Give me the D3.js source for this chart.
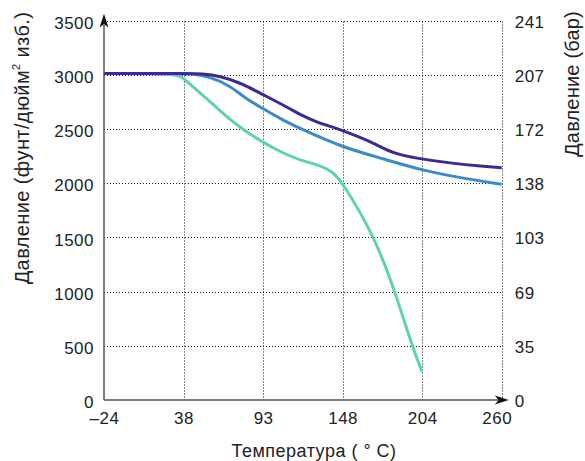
<!DOCTYPE html>
<html><head><meta charset="utf-8">
<script src="https://cdn.jsdelivr.net/npm/d3@7"></script>
<style>
body{margin:0;background:#fff;}
text{font-family:"Liberation Sans",Arial,sans-serif;fill:#222;}
</style></head>
<body><svg id="c" width="585" height="461"></svg>
<script>
const xTickLabels = ["–24","38","93","148","204","260"];
const yTicks = [0,500,1000,1500,2000,2500,3000,3500];
const yRightLabels = ["0","35","69","103","138","172","207","241"];
// x expressed in tick-index units (ticks are evenly spaced on the axis)
const seriesNavyX = [0,1,1.245,1.458,1.71,2,2.338,2.464,2.678,2.879,2.992,3.193,3.407,3.634,3.935,4.35,4.765,5];
const seriesNavyY = [3012,3012,3012,2989,2929,2818,2689,2634,2563,2517,2487,2432,2364,2275,2229,2186,2155,2143];
const seriesBlueX = [0,1,1.08,1.333,1.584,1.798,2,2.213,2.464,2.992,3.508,4,4.476,5];
const seriesBlueY = [3012,3012,3012,2984,2901,2772,2689,2597,2505,2333,2226,2119,2051,1990];
const seriesTealX = [0,0.893,0.993,1.144,1.333,1.459,1.584,1.748,2,2.213,2.464,2.678,2.879,3.005,3.407,3.659,3.872,3.998];
const seriesTealY = [3012,3012,2975,2874,2754,2671,2588,2496,2376,2293,2211,2174,2109,2000,1500,1000,500,261];
const colors = {navy:"#3a2b94", blue:"#3a8bc8", teal:"#5dd3b2"};

const svg = d3.select("#c");
const L=104, R=501.7, T=20.7, B=400;
const x = d3.scaleLinear().domain([0,5]).range([L,R]);
const y = d3.scaleLinear().domain([0,3500]).range([B,T]);
const px = v => Math.round(v)+0.5;

// grid
const g = svg.append("g");
g.selectAll(".hg").data(yTicks.filter(d=>d>0)).enter().append("line")
 .attr("x1",L).attr("x2",px(R)).attr("y1",d=>px(y(d))).attr("y2",d=>px(y(d)))
 .attr("stroke","#111").attr("stroke-width",1).attr("stroke-dasharray","1,2");
g.selectAll(".vg").data(d3.range(1,6)).enter().append("line")
 .attr("y1",px(T)).attr("y2",B).attr("x1",d=>px(x(d))).attr("x2",d=>px(x(d)))
 .attr("stroke","#111").attr("stroke-width",1).attr("stroke-dasharray","1,2");

// lines
const line = d3.line().x(d=>x(d[0])).y(d=>y(d[1])).curve(d3.curveBasis);
function draw(xs,ys,col){
  svg.append("path").datum(xs.map((v,i)=>[v,ys[i]])).attr("d",line)
   .attr("fill","none").attr("stroke",col).attr("stroke-width",3).attr("stroke-linecap","butt");
}
draw(seriesTealX,seriesTealY,colors.teal);
draw(seriesBlueX,seriesBlueY,colors.blue);
draw(seriesNavyX,seriesNavyY,colors.navy);

const tickFont = sel => sel.attr("font-size",17).attr("font-family","Liberation Sans, Arial, sans-serif").attr("fill","#222").attr("letter-spacing","0.5px");

// axes
const xAxis = d3.axisBottom(x).tickValues(d3.range(0,6)).tickFormat(i=>xTickLabels[i]).tickSize(0).tickPadding(12);
const xa = svg.append("g").attr("transform",`translate(0,${B})`).call(xAxis);
xa.select(".domain").remove();
xa.selectAll("text").call(tickFont);
xa.selectAll("text").filter((d,i)=>i===5).attr("dx",-5);

const yAxis = d3.axisLeft(y).tickValues(yTicks).tickFormat(d=>String(d)).tickSize(0).tickPadding(10);
const ya = svg.append("g").attr("transform",`translate(${L},0)`).call(yAxis);
ya.select(".domain").remove();
ya.selectAll("text").call(tickFont).attr("dy","0.45em");

const yAxisR = d3.axisRight(y).tickValues(yTicks).tickFormat((d,i)=>yRightLabels[i]).tickSize(0).tickPadding(13);
const yr = svg.append("g").attr("transform",`translate(${R},0)`).call(yAxisR);
yr.select(".domain").remove();
yr.selectAll("text").call(tickFont).attr("dy","0.38em");

// axis lines with arrows
svg.append("line").attr("x1",L).attr("x2",L).attr("y1",B).attr("y2",T-2).attr("stroke","#555").attr("stroke-width",1.5);
svg.append("line").attr("x1",L).attr("x2",R+1).attr("y1",B).attr("y2",B).attr("stroke","#555").attr("stroke-width",1.5);
svg.append("path").attr("d",`M${L},${T-7} L${L+4.5},${T+7} L${L},${T+3} L${L-4.5},${T+7} Z`).attr("fill","#111");
svg.append("path").attr("d",`M${R+7},${B} L${R-7},${B-4.5} L${R-3},${B} L${R-7},${B+4.5} Z`).attr("fill","#111");

// titles
svg.append("text").attr("x",314).attr("y",457).attr("text-anchor","middle").attr("font-size",18).attr("letter-spacing","0.5px").text("Температура ( ° C)");
svg.append("text").attr("transform","translate(29,148) rotate(-90)").attr("text-anchor","middle").attr("font-size",20).attr("letter-spacing","0.4px")
  .html('Давление (фунт/дюйм<tspan font-size="11" dy="-9">2</tspan><tspan dy="9"> изб.)</tspan>');
svg.append("text").attr("transform","translate(579,84) rotate(-90)").attr("text-anchor","middle").attr("font-size",20).attr("letter-spacing","0.2px").text("Давление (бар)");
</script></body></html>
